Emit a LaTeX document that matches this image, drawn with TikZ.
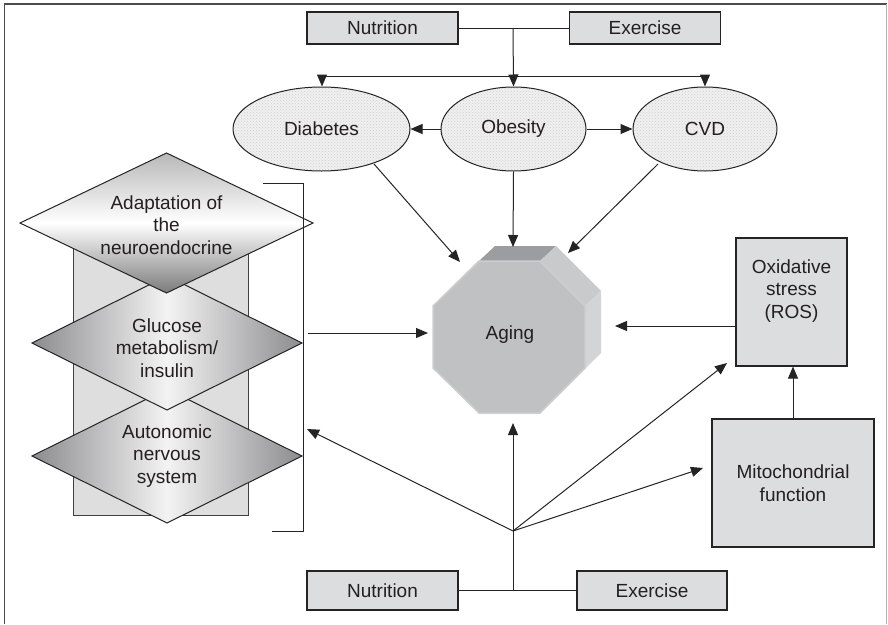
\documentclass[tikz,border=0pt]{standalone}
\usepackage{fontspec}
\setmainfont{Liberation Sans}
\usetikzlibrary{arrows.meta,shapes.geometric,patterns}
\definecolor{boxfill}{HTML}{DCDDDF}
\definecolor{lineC}{HTML}{262324}
\definecolor{txt}{HTML}{231F20}
\definecolor{ellfill}{HTML}{F0F0F0}
\definecolor{elldot}{HTML}{CFCFCF}
\definecolor{octfront}{HTML}{C0C1C3}
\definecolor{octtop}{HTML}{9C9DA0}
\definecolor{octdiag}{HTML}{C9CACC}
\definecolor{octside}{HTML}{D3D4D6}
\definecolor{octrim}{HTML}{CDCED0}
\definecolor{rectfill}{HTML}{DEDEDF}
\definecolor{dmdark}{HTML}{8C8C8F}
\definecolor{dmlight}{HTML}{F3F3F3}
\tikzset{
  boxnode/.style={draw=lineC, fill=boxfill, line width=1.1pt, inner sep=0pt, align=center},
  ellnode/.style={ellipse, draw=lineC, line width=1pt, inner sep=0pt,
     preaction={fill=ellfill}, pattern=crosshatch dots, pattern color=elldot},
  conn/.style={draw=lineC, line width=1pt},
  arr/.style={conn, -{Triangle[length=12pt,width=10pt]}},
  dmd/.style={draw=lineC, line width=1pt},
}
\begin{document}
\begin{tikzpicture}[x=1pt,y=-1pt,font=\fontsize{19}{22.5}\selectfont, text=txt]
\useasboundingbox (0,0) rectangle (888,624);
% frame
\draw[color=black!70, line width=1.5pt] (4.5,624) -- (4.5,4) -- (887,4);
\draw[color=black!30, line width=1pt] (886.5,4) -- (886.5,624);

% top boxes
\node[boxnode, minimum width=151pt, minimum height=32pt] (nutT) at (382.5,28) {Nutrition};
\node[boxnode, minimum width=151pt, minimum height=32pt] (exeT) at (645,28) {Exercise};
\coordinate (jT) at (513,28);
\coordinate (hl) at (322,76);
\coordinate (hr) at (705,76);

% ellipses
\node[ellnode, minimum width=177pt, minimum height=84pt] (diab) at (321.5,129) {Diabetes};
\node[ellnode, minimum width=145pt, minimum height=84pt] (obes) at (513.5,129) {Obesity};
\node[ellnode, minimum width=144pt, minimum height=84pt] (cvd) at (705,129) {CVD};

\draw[conn] (nutT.east) -- (exeT.west);
\draw[arr] (jT) -- (obes.north);
\draw[conn] (hl) -- (hr);
\draw[arr] (hl) -- (hl |- diab.north);
\draw[arr] (hr) -- (hr |- cvd.north);
\draw[arr] (obes.west) -- (diab.east);
\draw[arr] (obes.east) -- (cvd.west);

% left stack
\draw[draw=black!75, fill=rectfill, line width=1pt] (73,240) rectangle (248,515);
\path[dmd, left color=dmdark, right color=dmdark, middle color=dmlight]
  (32,456) -- (167,389) -- (302,456) -- (167,523) -- cycle;
\path[dmd, left color=dmdark, right color=dmdark, middle color=dmlight]
  (32,343) -- (167,276) -- (302,343) -- (167,410) -- cycle;
\path[dmd, top color=black!28, bottom color=black!52, middle color=white]
  (20,223) -- (166.5,153) -- (313,223) -- (166.5,293) -- cycle;
\node[align=center] (adapt) at (166.5,225) {Adaptation of\\the\\neuroendocrine};
\node[align=center] (gluc) at (167,348) {Glucose\\metabolism/\\insulin};
\node[align=center] (auto) at (167,456) {Autonomic\\nervous\\system};
\draw[conn] (263,183) -- (303,183) -- (303,531) -- (272,531);
\coordinate (brk) at (308,333);
\coordinate (brkIn) at (307,429);

% aging octagon
\coordinate (F1) at (479,261); \coordinate (F2) at (540,261);
\coordinate (F3) at (585,306); \coordinate (F4) at (585,368);
\coordinate (F5) at (540,413); \coordinate (F6) at (479,413);
\coordinate (F7) at (433,368); \coordinate (F8) at (433,306);
\coordinate (B1) at (495,246); \coordinate (B2) at (556,246);
\coordinate (B3) at (601,291); \coordinate (B4) at (601,353);
\coordinate (B5) at (556,398);
\fill[octtop] (F1) -- (F2) -- (B2) -- (B1) -- cycle;
\fill[octdiag] (F2) -- (F3) -- (B3) -- (B2) -- cycle;
\fill[octside] (F3) -- (F4) -- (B4) -- (B3) -- cycle;
\fill[octside!80!white] (F4) -- (F5) -- (B5) -- (B4) -- cycle;
\path[fill=octfront, draw=octrim, line width=1.5pt]
  (F1) -- (F2) -- (F3) -- (F4) -- (F5) -- (F6) -- (F7) -- (F8) -- cycle;
\node (aging) at (510,335) {Aging};
\coordinate (agTL) at (460,262);
\coordinate (agT) at (513,247);
\coordinate (agTR) at (568,253);
\coordinate (agL) at (428,333);
\coordinate (agR) at (615,326);
\coordinate (agB) at (513,423);

% right boxes
\node[boxnode, minimum width=111pt, minimum height=128pt] (ros) at (791.5,302) {};
\node[align=center] (rostxt) at (791.5,291) {Oxidative\\stress\\(ROS)};
\node[boxnode, minimum width=162pt, minimum height=128pt] (mito) at (793,483) {Mitochondrial\\function};
\coordinate (rosIn) at (727,363);
\coordinate (mitoIn) at (703,468);

% bottom boxes
\node[boxnode, minimum width=151pt, minimum height=39pt] (nutB) at (382.5,590.5) {Nutrition};
\node[boxnode, minimum width=150pt, minimum height=39pt] (exeB) at (652,590.5) {Exercise};
\coordinate (jB) at (513,590.5);
\coordinate (J) at (513,531);

% arrows into aging
\draw[arr] (374,164) -- (agTL);
\draw[arr] (obes.south) -- (agT);
\draw[arr] (658,164) -- (agTR);
\draw[arr] (brk) -- (agL);
\draw[arr] (ros.west |- agR) -- (agR);
\draw[arr] (mito.north) -- (mito.north |- ros.south);

% bottom fan
\draw[conn] (nutB.east) -- (exeB.west);
\draw[conn] (jB) -- (J);
\draw[arr] (J) -- (agB);
\draw[arr] (J) -- (brkIn);
\draw[arr] (J) -- (rosIn);
\draw[arr] (J) -- (mitoIn);
\end{tikzpicture}
\end{document}
